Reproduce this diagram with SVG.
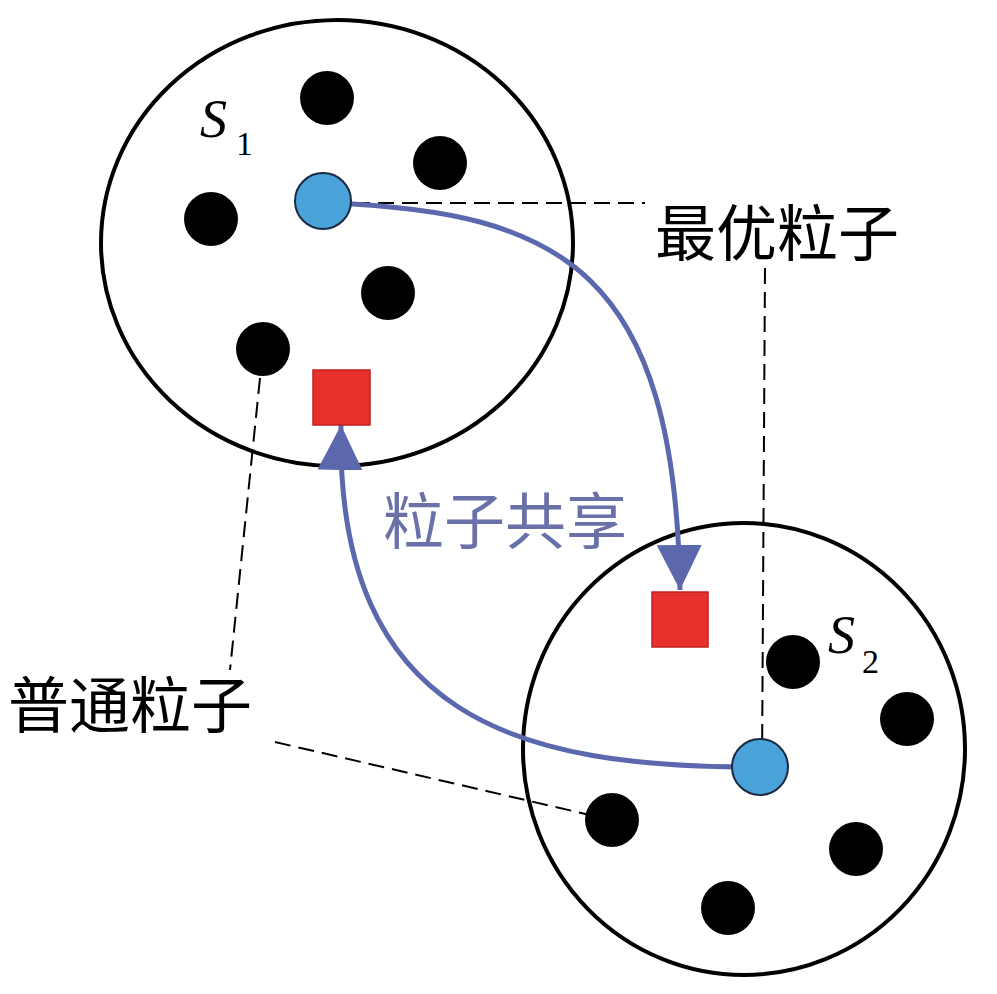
<svg xmlns="http://www.w3.org/2000/svg" width="997" height="994" viewBox="0 0 997 994">
<style>
.ring{fill:none;stroke:#000;stroke-width:4}
.dot{fill:#000}
.best{fill:#4aa3d8;stroke:#1a2a40;stroke-width:2}
.sq{fill:#e8312c;stroke:#c02020;stroke-width:1.5}
.share{fill:none;stroke:#5b68ad;stroke-width:5}
.dash{fill:none;stroke:#000;stroke-width:2;stroke-dasharray:16 8}
.cjk{font-family:"Noto Sans CJK SC","Noto Sans CJK JP",sans-serif;font-size:61px}
.lab{font-family:"Liberation Serif",serif;font-style:italic;font-size:54px}
.sub{font-family:"Liberation Serif",serif;font-size:34px}
</style>
<defs>
<marker id="ah" viewBox="0 0 10 10" refX="10" refY="5" markerWidth="9" markerHeight="9" markerUnits="strokeWidth" orient="auto">
<path d="M0,0 L10,5 L0,10 Z" fill="#5b68ad"/>
</marker>
</defs>
<rect width="997" height="994" fill="#fff"/>
<g id="S1">
<ellipse class="ring" cx="337" cy="243" rx="236" ry="223"/>
<text class="lab" x="200" y="137">S</text><text class="sub" x="236" y="155">1</text>
</g>
<g id="S2">
<ellipse class="ring" cx="744" cy="749" rx="221" ry="226"/>
<text class="lab" x="828" y="653">S</text><text class="sub" x="862" y="673">2</text>
</g>
<g id="particles1">
<circle class="dot" cx="327" cy="98" r="27"/>
<circle class="dot" cx="440" cy="163" r="27"/>
<circle class="dot" cx="211" cy="219" r="27"/>
<circle class="dot" cx="388" cy="293" r="27"/>
<circle class="dot" cx="263" cy="349" r="27"/>
</g>
<g id="particles2">
<circle class="dot" cx="793" cy="662" r="27"/>
<circle class="dot" cx="907" cy="719" r="27"/>
<circle class="dot" cx="612" cy="820" r="27"/>
<circle class="dot" cx="856" cy="849" r="27"/>
<circle class="dot" cx="728" cy="908" r="27"/>
</g>
<g id="connectors">
<path class="dash" d="M330,203 L645,203"/>
<path class="dash" d="M765,268 L762,768"/>
<path class="dash" d="M260,378 L230,670"/>
<path class="dash" d="M275,742 L590,815"/>
<path class="share" marker-end="url(#ah)" d="M330,203 C560,212 675,270 680,590"/>
<path class="share" marker-end="url(#ah)" d="M760,767 C520,768 335,720 341,425"/>
</g>
<g id="best1"><circle class="best" cx="323" cy="201" r="28"/></g>
<g id="best2"><circle class="best" cx="760" cy="767" r="28"/></g>
<g id="new1"><rect class="sq" x="313" y="370" width="57" height="55"/></g>
<g id="new2"><rect class="sq" x="652" y="592" width="56" height="55"/></g>
<g id="labels">
<text class="cjk" x="655" y="256">最优粒子</text>
<text class="cjk" x="8" y="728">普通粒子</text>
<text class="cjk" x="383" y="544" fill="#6a70a8">粒子共享</text>
</g>
</svg>
